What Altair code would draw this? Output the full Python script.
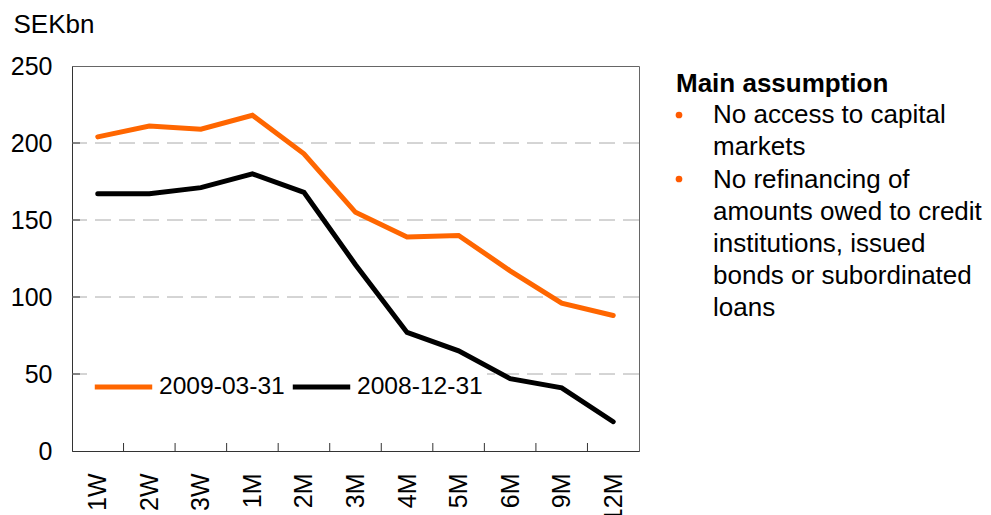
import json
import altair as alt
import pandas as pd

categories = ["1W", "2W", "3W", "1M", "2M", "3M", "4M", "5M", "6M", "9M", "12M"]
series_names = ["2009-03-31", "2008-12-31"]
values_2009 = [204, 211, 209, 218, 193, 155, 139, 140, 117, 96, 88]
values_2008 = [167, 167, 171, 180, 168, 121, 77, 65, 47, 41, 19]
series_colors = ["#ff6600", "#000000"]
y_tick_values = [0, 50, 100, 150, 200, 250]
grid_values = [50, 100, 150, 200]

heading = "Main assumption"
bullet_1 = ["No access to capital", "markets"]
bullet_2 = ["No refinancing of", "amounts owed to credit", "institutions, issued",
            "bonds or subordinated", "loans"]

FONT = "Liberation Sans, Arial, sans-serif"
W, H = 567, 385

rows = []
for name, vals in zip(series_names, [values_2009, values_2008]):
    for i, v in enumerate(vals):
        rows.append({"series": name, "idx": i, "value": v})
df = pd.DataFrame(rows)

x_scale = alt.Scale(domain=[-0.5, len(categories) - 0.5], nice=False, zero=False)
y_scale = alt.Scale(domain=[0, 250], nice=False)

label_expr = json.dumps(categories) + "[datum.value]"
x_axis = alt.Axis(values=list(range(len(categories))), labelExpr=label_expr,
                  labelAngle=270, labelFontSize=25, labelFont=FONT, labelColor="#000",
                  labelPadding=22, ticks=False, tickSize=0, grid=False,
                  domainColor="#333", title=None)

lines = alt.Chart(df).mark_line(strokeWidth=5, strokeCap="round").encode(
    x=alt.X("idx:Q", scale=x_scale, axis=x_axis),
    y=alt.Y("value:Q", scale=y_scale,
            axis=alt.Axis(values=y_tick_values, labelFontSize=25, labelFont=FONT, labelColor="#000",
                          labelPadding=20, ticks=False, tickSize=0, grid=False,
                          domainColor="#333", title="SEKbn", titleAngle=0, titleX=-59, titleY=-34,
                          titleAlign="left", titleBaseline="alphabetic", titleFontSize=26,
                          titleFont=FONT, titleFontWeight="normal", titleColor="#000")),
    color=alt.Color("series:N", scale=alt.Scale(domain=series_names, range=series_colors),
                    legend=alt.Legend(orient="none", legendX=16, legendY=304, direction="horizontal",
                                      title=None, symbolType="stroke", symbolSize=3300,
                                      symbolStrokeWidth=5, clipHeight=26, labelFontSize=24.6,
                                      labelFont=FONT, labelColor="#000", labelOffset=4,
                                      columnPadding=5, fillColor="white", padding=4)),
    order=alt.Order("idx:Q"),
)

grid = alt.Chart(pd.DataFrame({"v": grid_values})).mark_rule(
    color="#aaaaaa", strokeWidth=1, strokeDash=[16, 8]
).encode(y=alt.Y("v:Q", scale=y_scale, axis=None))

y_ticks = alt.Chart(pd.DataFrame({"v": grid_values})).mark_rule(color="#333", strokeWidth=1).encode(
    y=alt.Y("v:Q", scale=y_scale, axis=None), x=alt.value(0), x2=alt.value(8))

bounds = [i + 0.5 for i in range(len(categories) - 1)]
x_ticks = alt.Chart(pd.DataFrame({"idx": bounds})).mark_rule(color="#333", strokeWidth=1).encode(
    x=alt.X("idx:Q", scale=x_scale, axis=x_axis), y=alt.value(H), y2=alt.value(H - 8))

one = pd.DataFrame({"k": [0]})
head = alt.Chart(one).mark_text(align="left", baseline="alphabetic", font=FONT, fontSize=26,
                                fontWeight="bold", color="#000").encode(
    x=alt.value(604), y=alt.value(26), text=alt.value(heading))
text1 = alt.Chart(one).mark_text(align="left", baseline="alphabetic", font=FONT, fontSize=26,
                                 lineHeight=32, color="#000").encode(
    x=alt.value(641), y=alt.value(57), text=alt.value(bullet_1))
text2 = alt.Chart(one).mark_text(align="left", baseline="alphabetic", font=FONT, fontSize=26,
                                 lineHeight=32, color="#000").encode(
    x=alt.value(641), y=alt.value(122), text=alt.value(bullet_2))
bullets = alt.Chart(pd.DataFrame({"y": [49, 113]})).mark_circle(color="#ff5a00", opacity=1, size=45).encode(
    x=alt.value(607), y=alt.Y("y:Q", scale=alt.Scale(domain=[0, H], range=[0, H]), axis=None))

chart = alt.layer(grid, y_ticks, lines, x_ticks, head, text1, text2, bullets).resolve_scale(
    y="independent"
).properties(
    width=W, height=H,
    autosize=alt.AutoSizeParams(type="none"),
    padding={"left": 64, "top": 58, "right": 344, "bottom": 64},
    background="white",
).configure_view(stroke="#666", strokeWidth=1)

chart.save("out.html", embed_options={"renderer": "svg", "actions": False})
